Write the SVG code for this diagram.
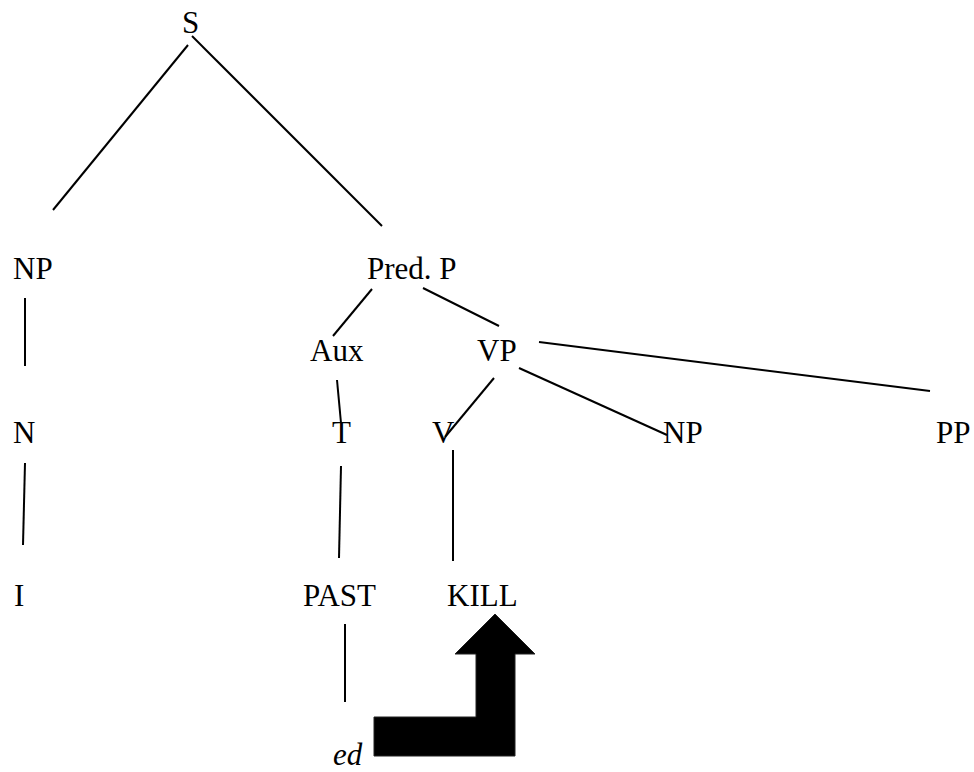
<svg xmlns="http://www.w3.org/2000/svg" width="974" height="772" viewBox="0 0 974 772">
<style>
text { font-family: "Liberation Serif", "Times New Roman", serif; font-size: 31px; fill: #000; }
.it { font-style: italic; }
line { stroke: #000; stroke-width: 2; }
</style>
<rect width="974" height="772" fill="#fff"/>
<g id="connectors">
<line x1="188" y1="45" x2="53" y2="210"/>
<line x1="192" y1="36" x2="382" y2="226"/>
<line x1="25" y1="298" x2="25" y2="366"/>
<line x1="372" y1="289" x2="333" y2="336"/>
<line x1="423" y1="288" x2="499" y2="326"/>
<line x1="337" y1="380" x2="341" y2="423"/>
<line x1="494" y1="378" x2="445" y2="437"/>
<line x1="519" y1="368" x2="667" y2="435"/>
<line x1="539" y1="342" x2="930" y2="391"/>
<line x1="25" y1="463" x2="23" y2="545"/>
<line x1="341" y1="466" x2="339" y2="558"/>
<line x1="453" y1="450" x2="453" y2="561"/>
<line x1="345" y1="624" x2="345" y2="702"/>
<polygon id="arrow" points="374,717 476,717 476,654 455,654 495,614 535,654 515,654 515,756 374,756" fill="#000" stroke="#222" stroke-width="1"/>
</g>
<g id="n-S"><text x="182" y="33">S</text></g>
<g id="n-NP"><text x="13" y="279">NP</text></g>
<g id="n-PredP"><text x="367" y="279">Pred. P</text></g>
<g id="n-Aux"><text x="310" y="361">Aux</text></g>
<g id="n-VP"><text x="477" y="361">VP</text></g>
<g id="n-N"><text x="13" y="443">N</text></g>
<g id="n-T"><text x="332" y="443">T</text></g>
<g id="n-V"><text x="432" y="443">V</text></g>
<g id="n-NP2"><text x="663" y="443">NP</text></g>
<g id="n-PP"><text x="936" y="443">PP</text></g>
<g id="n-I"><text x="14" y="606">I</text></g>
<g id="n-PAST"><text x="303" y="606">PAST</text></g>
<g id="n-KILL"><text x="447" y="606">KILL</text></g>
<g id="n-ed"><text class="it" x="333" y="765">ed</text></g>
</svg>
